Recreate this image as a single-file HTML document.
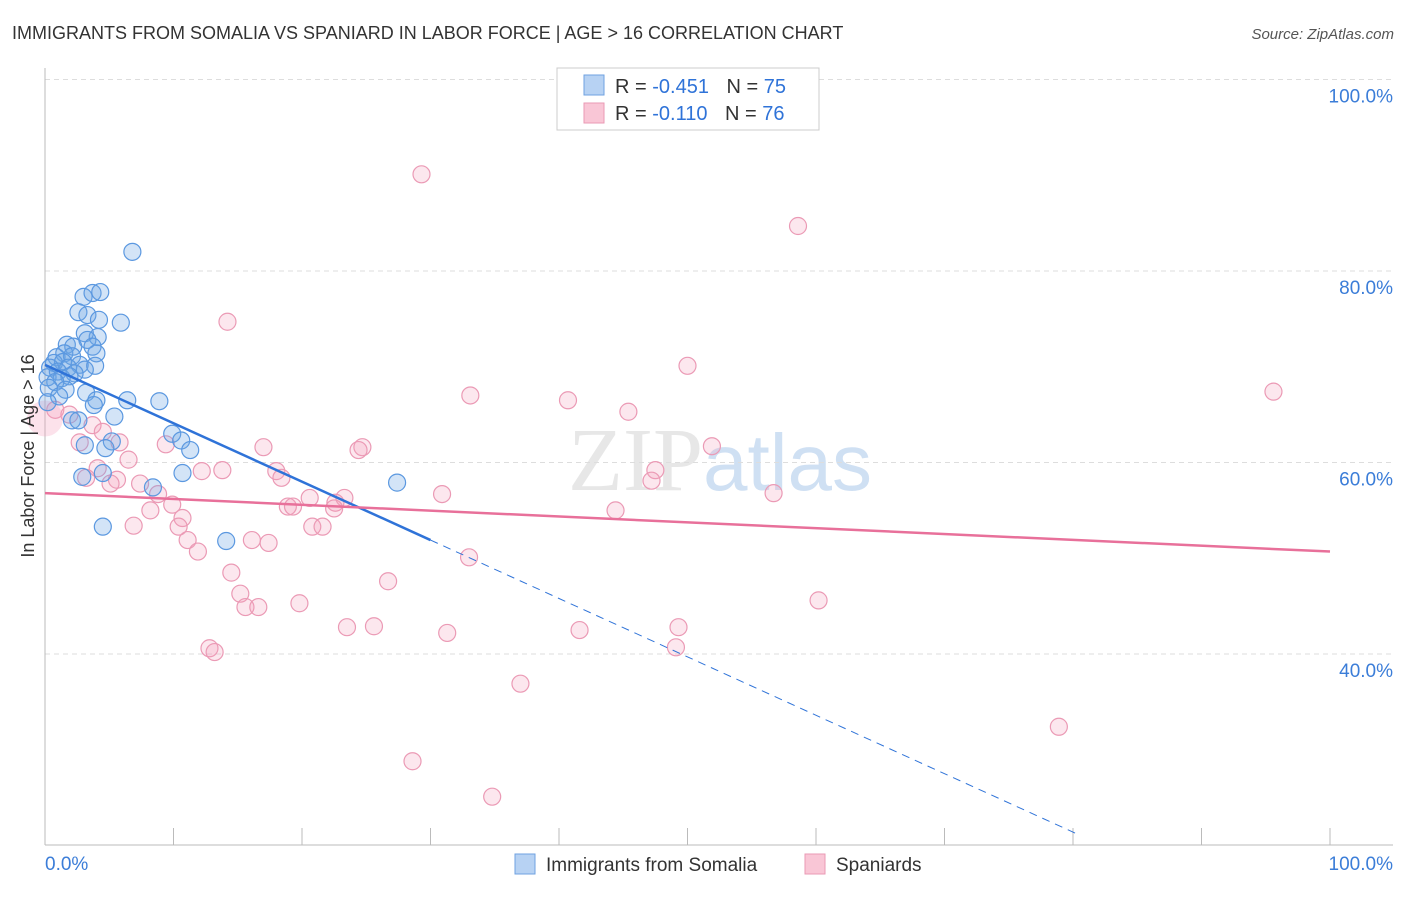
<!DOCTYPE html>
<html><head><meta charset="utf-8"><style>
body{margin:0;background:#fff;font-family:"Liberation Sans",sans-serif}
</style></head><body>
<svg id="chart" width="1406" height="892" xmlns="http://www.w3.org/2000/svg" style="font-family:'Liberation Sans',sans-serif">
<text x="12" y="39" font-size="18" fill="#333">IMMIGRANTS FROM SOMALIA VS SPANIARD IN LABOR FORCE | AGE &gt; 16 CORRELATION CHART</text>
<text x="1394" y="39" font-size="15" fill="#555" font-style="italic" text-anchor="end">Source: ZipAtlas.com</text>
<text x="720" y="490" font-size="90" text-anchor="middle" fill="#ddd" font-family="Liberation Serif,serif" opacity="0.7">ZIP<tspan fill="#bcd3ee" font-family="Liberation Sans,sans-serif" font-size="80">atlas</tspan></text>
<g id="grid"></g><g id="axes"></g><g id="pts"></g><g id="lines"></g>
<text transform="translate(34,456) rotate(-90)" font-size="18" fill="#333" text-anchor="middle">In Labor Force | Age &gt; 16</text>
<g>
<rect x="557" y="68" width="262" height="62" fill="#fff" stroke="#ccc"/>
<rect x="584" y="75" width="20" height="20" fill="#b7d2f3" stroke="#6fa2e0"/>
<rect x="584" y="103" width="20" height="20" fill="#f9c6d6" stroke="#ea9ab4"/>
<text x="615" y="93" font-size="20" fill="#333">R = <tspan fill="#2f73d8">-0.451</tspan>  <tspan dx="12">N = </tspan><tspan fill="#2f73d8">75</tspan></text>
<text x="615" y="120" font-size="20" fill="#333">R = <tspan fill="#2f73d8"> -0.110</tspan>  <tspan dx="12">N = </tspan><tspan fill="#2f73d8">76</tspan></text>
</g>
<g>
<rect x="515" y="854" width="20" height="20" fill="#b7d2f3" stroke="#6fa2e0"/>
<text x="546" y="871" font-size="19" fill="#333">Immigrants from Somalia</text>
<rect x="805" y="854" width="20" height="20" fill="#f9c6d6" stroke="#ea9ab4"/>
<text x="836" y="871" font-size="19" fill="#333">Spaniards</text>
</g>
</svg>
<script>
const xTicks=[0,10,20,30,40,50,60,70,80,90,100];
const yTicks=[40,60,80,100];
const yTickLabels=["40.0%","60.0%","80.0%","100.0%"];
const blueX=[6.8,3.0,3.7,4.3,2.6,3.3,4.2,5.9,3.1,4.1,3.3,1.7,2.2,3.7,1.5,4.0,0.9,2.1,0.7,1.4,2.7,3.9,0.4,1.8,3.1,1.0,2.3,0.2,1.3,1.9,0.8,0.3,1.6,3.2,4.0,6.4,8.9,1.1,0.2,3.8,5.4,2.1,2.6,9.9,10.6,5.2,3.1,4.7,11.3,10.7,4.5,2.9,8.4,27.4,4.5,14.1];
const blueY=[82.0,77.3,77.7,77.8,75.7,75.4,74.9,74.6,73.5,73.1,72.8,72.3,72.1,72.1,71.4,71.4,71.0,71.1,70.4,70.5,70.2,70.1,69.9,69.9,69.7,69.5,69.3,68.9,68.8,69.0,68.4,67.8,67.6,67.3,66.5,66.5,66.4,66.9,66.3,66.0,64.8,64.4,64.4,63.0,62.3,62.2,61.8,61.5,61.3,58.9,58.9,58.5,57.4,57.9,53.3,51.8];
const pinkX=[29.3,58.6,14.2,50.0,95.6,33.1,40.7,45.4,0.8,1.9,3.7,4.5,5.8,2.7,9.4,17.0,24.7,24.4,51.9,6.5,4.1,12.2,13.8,18.0,47.5,47.2,3.2,5.6,5.1,7.4,18.4,8.8,30.9,56.7,20.6,23.3,22.6,9.9,18.9,19.3,22.5,8.2,44.4,10.7,6.9,10.4,20.8,21.6,11.1,16.1,17.4,11.9,33.0,14.5,26.7,15.2,15.6,16.6,19.8,60.2,23.5,25.6,41.6,49.3,31.3,49.1,12.8,13.2,37.0,78.9,28.6,34.8];
const pinkY=[90.1,84.7,74.7,70.1,67.4,67.0,66.5,65.3,65.5,65.0,63.9,63.2,62.1,62.1,61.9,61.6,61.6,61.3,61.7,60.3,59.4,59.1,59.2,59.1,59.2,58.1,58.4,58.2,57.8,57.8,58.4,56.7,56.7,56.8,56.3,56.3,55.8,55.6,55.4,55.4,55.2,55.0,55.0,54.2,53.4,53.3,53.3,53.3,51.9,51.9,51.6,50.7,50.1,48.5,47.6,46.3,44.9,44.9,45.3,45.6,42.8,42.9,42.5,42.8,42.2,40.7,40.6,40.2,36.9,32.4,28.8,25.1];
const blueTrend=[70.2,-0.61];
const pinkTrend=[56.8,-0.061];
const NS="http://www.w3.org/2000/svg";
const X=v=>45+v*12.85, Y=v=>1037-v*9.575;
function mk(t,a,p){const e=document.createElementNS(NS,t);for(const k in a)e.setAttribute(k,a[k]);document.getElementById(p).appendChild(e);return e;}
yTicks.forEach((t,i)=>{
 const g=mk('line',{x1:45,x2:1393,y1:Y(t),y2:Y(t),stroke:'#ddd','stroke-dasharray':'5,4'},'grid');
 
 
 const l=mk('text',{x:1393,y:Y(t)+23,'font-size':19,fill:'#3b7dd8','text-anchor':'end'},'axes');
 l.textContent=yTickLabels[i];
 
 
});
const ax=mk('line',{x1:45,x2:45,y1:68,y2:845,stroke:'#bbb'},'axes');


const bx=mk('line',{x1:45,x2:1393,y1:845,y2:845,stroke:'#bbb'},'axes');


xTicks.forEach(t=>{
 const k=mk('line',{x1:X(t),x2:X(t),y1:828,y2:845,stroke:'#bbb'},'axes');
 
 
});
[[0,'0.0%','start',45],[100,'100.0%','end',1393]].forEach(d=>{
 const l=mk('text',{x:d[3],y:870,'font-size':19,fill:'#3b7dd8','text-anchor':d[2]},'axes');
 l.textContent=d[1];
 
 
});
pinkX.forEach((x,i)=>{
 const c=mk('circle',{cx:X(x),cy:Y(pinkY[i]),r:8.5,fill:'rgba(244,160,188,0.25)',stroke:'#eb9ab5','stroke-width':1.2},'pts');
 
 
});
const big=mk('circle',{cx:X(0),cy:Y(64.6),r:18,fill:'rgba(244,160,188,0.3)',stroke:'none'},'pts');


blueX.forEach((x,i)=>{
 const c=mk('circle',{cx:X(x),cy:Y(blueY[i]),r:8.5,fill:'rgba(110,165,230,0.3)',stroke:'#5b98e0','stroke-width':1.2},'pts');
 
 
});
const bt=v=>blueTrend[0]+blueTrend[1]*v, pt=v=>pinkTrend[0]+pinkTrend[1]*v;
const l1=mk('line',{x1:X(0),y1:Y(bt(0)),x2:X(30),y2:Y(bt(30)),stroke:'#2f73d8','stroke-width':2.5},'lines');


const l2=mk('line',{x1:X(30),y1:Y(bt(30)),x2:X(80.5),y2:Y(bt(80.5)),stroke:'#2f73d8','stroke-width':1,'stroke-dasharray':'8,6'},'lines');


const l3=mk('line',{x1:X(0),y1:Y(pt(0)),x2:X(100),y2:Y(pt(100)),stroke:'#e8709a','stroke-width':2.5},'lines');


</script>
</body></html>
